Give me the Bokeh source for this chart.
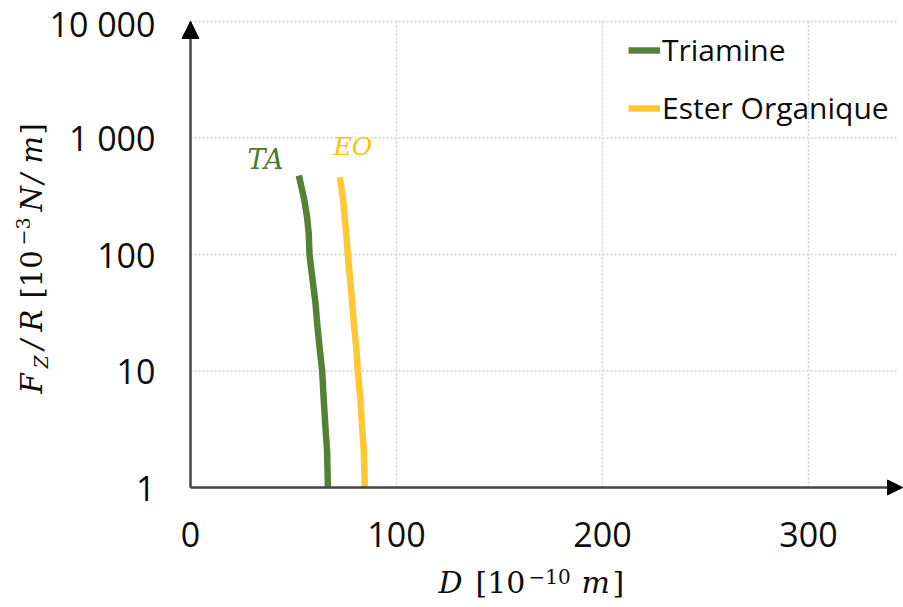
import math
from bokeh.plotting import figure
from bokeh.models import (FixedTicker, Label, Arrow, NormalHead, Legend, LegendItem, Range1d)
from bokeh.embed import file_html
from bokeh.resources import INLINE

# ---------------- data ----------------
ta_D = [52.6, 55.3, 56.6, 57.4, 57.8, 59.5, 60.7, 61.5, 62.8, 63.9, 64.7, 65.5, 66.3, 66.7]
ta_F = [476, 291, 209, 151, 98, 56, 38, 25.4, 15, 10.1, 5.6, 3.3, 2.08, 1.0]
eo_D = [72.5, 74.1, 75.6, 76.4, 77.7, 78.5, 79.3, 80.6, 81.2, 82.5, 83.3, 84.1, 84.6]
eo_F = [461, 291, 151, 98, 56, 38, 25.4, 15, 10.1, 5.6, 3.3, 2.08, 1.0]
series_names = ["Triamine", "Ester Organique"]
x_ticks = [0, 100, 200, 300]
x_tick_labels = ["0", "100", "200", "300"]
y_ticks = [1, 10, 100, 1000, 10000]
y_tick_labels = ["1", "10", "100", "1 000", "10 000"]

GREEN = "#548235"
GREEN_TXT = "#4E7A2F"
YELLOW = "#FFC832"
YELLOW_TXT = "#FFC000"
TXT = "#0D0D0D"
AXIS = "#474747"
GRID = "#D0D0D0"
SANS = "Open Sans"
SERIF = "DejaVu Serif"

# ---------------- geometry (page px; the frame covers the whole canvas) ----------------
W, H = 903, 605
ORIG_X, ORIG_Y = 190, 487          # page position of (0, 1)
PX_PER_UNIT = 2.06                 # x scale
PX_PER_DECADE = 116.5              # y scale
X_MAX = 343.2                      # data end of plot area (grid right edge)
Y_MIN, Y_MAX = 1, 10000


def dx(page_x):
    return (page_x - ORIG_X) / PX_PER_UNIT


def dy(page_y):
    return 10 ** ((ORIG_Y - page_y) / PX_PER_DECADE)


p = figure(width=W, height=H, y_axis_type="log", output_backend="svg", title=None,
           toolbar_location=None, x_range=Range1d(dx(0), dx(W)), y_range=Range1d(dy(H), dy(0)),
           min_border=0)
p.outline_line_color = None
p.background_fill_color = "white"
p.border_fill_color = "white"
p.xgrid.visible = False
p.ygrid.visible = False

xa, ya = p.xaxis[0], p.yaxis[0]
xa.fixed_location = Y_MIN
ya.fixed_location = 0
xa.bounds = (0, X_MAX)
ya.bounds = (Y_MIN, Y_MAX)
for ax in (xa, ya):
    ax.axis_line_color = AXIS
    ax.axis_line_width = 2
    ax.major_tick_line_color = None
    ax.minor_tick_line_color = None
    ax.major_tick_out = 0
    ax.major_tick_in = 0
    ax.minor_tick_out = 0
    ax.major_label_text_font = SANS
    ax.major_label_text_font_size = "34px"
    ax.major_label_text_color = TXT
xa.ticker = FixedTicker(ticks=x_ticks)
xa.major_label_overrides = {t: l for t, l in zip(x_ticks, x_tick_labels)}
xa.major_label_standoff = 34
ya.ticker = FixedTicker(ticks=y_ticks)
ya.major_label_overrides = {t: l for t, l in zip(y_ticks, y_tick_labels)}
ya.major_label_standoff = 35

# dotted grid lines at the tick values
gx = x_ticks[1:]
p.segment(x0=gx, y0=[Y_MIN] * len(gx), x1=gx, y1=[Y_MAX] * len(gx),
          line_color=GRID, line_dash="2 2", line_width=1.5)
gy = y_ticks[1:]
p.segment(x0=[0] * len(gy), y0=gy, x1=[X_MAX] * len(gy), y1=gy,
          line_color=GRID, line_dash="2 2", line_width=1.5)

r_ta = p.line(ta_D, ta_F, line_color=GREEN, line_width=6.5, line_join="round", line_cap="butt")
r_eo = p.line(eo_D, eo_F, line_color=YELLOW, line_width=6.5, line_join="round", line_cap="butt")

legend = Legend(items=[LegendItem(label=series_names[0], renderers=[r_ta]),
                       LegendItem(label=series_names[1], renderers=[r_eo])],
                location=(628, H - 128))
legend.label_text_font = SANS
legend.label_text_font_size = "30px"
legend.label_text_color = TXT
legend.glyph_width = 32
legend.glyph_height = 20
legend.label_standoff = 2
legend.spacing = 17
legend.padding = 0
legend.margin = 0
legend.border_line_color = None
legend.background_fill_alpha = 0
p.add_layout(legend)

p.add_layout(Arrow(end=NormalHead(size=17, fill_color="black", line_color="black"),
                   x_start=0, y_start=Y_MIN, x_end=0, y_end=Y_MAX,
                   line_color=AXIS, line_width=2))
p.add_layout(Arrow(end=NormalHead(size=15, fill_color="black", line_color="black"),
                   x_start=0, y_start=Y_MIN, x_end=dx(902), y_end=Y_MIN,
                   line_color=AXIS, line_width=2))

p.add_layout(Label(x=dx(247), y=dy(174), text="TA", text_font=SERIF, text_font_style="italic",
                   text_font_size="27px", text_color=GREEN_TXT))
p.add_layout(Label(x=dx(333), y=dy(160), text="EO", text_font=SERIF, text_font_style="italic",
                   text_font_size="25px", text_color=YELLOW_TXT))


def piece(text, px_, py_, size=29, italic=False, angle=0.0):
    # (px_, py_) = start of the piece, at the middle of its line box
    p.add_layout(Label(x=dx(px_), y=dy(py_), text=text, text_font=SERIF,
                       text_font_style="italic" if italic else "normal",
                       text_font_size=f"{size}px", text_color=TXT, angle=angle,
                       text_align="left", text_baseline="middle"))


# y axis title: F_Z/R [10^-3 N/m] (rotated)
A = math.pi / 2
piece("F", 31, 393, italic=True, angle=A)
piece("Z", 40, 368, size=19, italic=True, angle=A)
piece("/", 31, 349, italic=True, angle=A)
piece("R", 31, 331, italic=True, angle=A)
piece("[10", 31, 298, angle=A)
piece("\u22123", 22, 245, size=19, angle=A)
piece("N", 31, 211, italic=True, angle=A)
piece("/", 31, 183, italic=True, angle=A)
piece("m", 31, 163, italic=True, angle=A)
piece("]", 31, 134, angle=A)

# x axis title: D [10^-10 m]
piece("D", 438, 582, size=30, italic=True)
piece("[10", 475, 582, size=30)
piece("\u221210", 528, 576, size=20)
piece("m", 581, 582, size=30, italic=True)
piece("]", 612, 582, size=30)

open("out.html", "w").write(file_html(p, INLINE))
